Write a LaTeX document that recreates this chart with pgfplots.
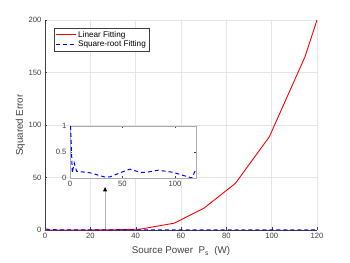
\documentclass[border=0pt]{standalone}
\usepackage{fontspec}
\setmainfont{Liberation Sans}
\usepackage{pgfplots}
\pgfplotsset{compat=1.18}
\usetikzlibrary{arrows.meta}
\definecolor{axgray}{gray}{0.25}
\definecolor{gridgray}{gray}{0.9}
\begin{document}
\begin{tikzpicture}
\useasboundingbox (-45bp,-33bp) rectangle (305bp,230bp);
\begin{axis}[
  at={(0,0)}, anchor=origin,
  scale only axis, width=272bp, height=210bp,
  xmin=0, xmax=120, ymin=0, ymax=200,
  xtick={0,20,...,120}, ytick={0,50,...,200},
  axis lines=left, axis line style={axgray, -},
  tick style={axgray}, tick align=inside,
  major tick length=2.5bp,
  grid=major, major grid style={gridgray, line width=0.4pt},
  /pgf/number format/assume math mode=true,
  ticklabel style={font=\fontsize{7.7}{8}\selectfont, text=axgray},
  label style={font=\fontsize{9.8}{11}\selectfont, text=axgray},
  xlabel={Source Power\ \ P\textsubscript{s}\ \ (W)},
  ylabel={Squared Error},
  xlabel style={yshift=-1bp},
  ylabel style={yshift=-3bp},
  legend style={at={(0.033,0.962)}, anchor=north west,
    font=\fontsize{8.2}{9}\selectfont, draw=axgray, fill=white,
    inner sep=1pt, row sep=-1.5pt},
  legend image code/.code={\draw[#1] (0bp,0bp) -- (20bp,0bp);},
  legend cell align=left,
  clip=false,
]
\addplot[red, line width=0.9pt] coordinates {
 (0,0) (14,0.0) (28,0.1) (42,0.8) (57,6.5) (70,20.6) (84,44.4) (99,88.9) (114.7,165) (120,200)};
\addlegendentry{Linear Fitting}
\addplot[blue, line width=1pt, dash pattern=on 4pt off 3pt] coordinates {
 (0.6,1.0) (2.2,0.1) (4,0.29) (6.3,0.13) (19,0.1) (33,0.02) (38,0.02) (47.6,0.1) (57,0.17) (66.7,0.11) (73,0.11) (84,0.15) (98,0.11) (116,0) (120,0.17)};
\addlegendentry{Square-root Fitting}
\draw[gray!60, line width=1.1pt, -{Latex[black, length=5bp, width=4.5bp]}] (axis cs:26.5,0.5) -- (axis cs:26.5,41.5);
\end{axis}
\begin{axis}[
  at={(25bp,52bp)}, anchor=origin,
  scale only axis, width=126bp, height=52bp,
  xmin=0, xmax=120, ymin=0, ymax=1,
  xtick={0,50,100}, ytick={0,0.5,1},
  axis line style={gray!65, line width=0.9pt},
  tick style={axgray}, tick align=inside,
  major tick length=2bp,
  axis background/.style={fill=white},
  /pgf/number format/assume math mode=true,
  ticklabel style={font=\fontsize{7.7}{8}\selectfont, text=axgray},
]
\addplot[blue, line width=1pt, dash pattern=on 4pt off 3pt] coordinates {
 (0.6,1.0) (2.2,0.1) (4,0.29) (6.3,0.13) (19,0.1) (33,0.02) (38,0.02) (47.6,0.1) (57,0.17) (66.7,0.11) (73,0.11) (84,0.15) (98,0.11) (116,0) (120,0.17)};
\end{axis}
\end{tikzpicture}
\end{document}
